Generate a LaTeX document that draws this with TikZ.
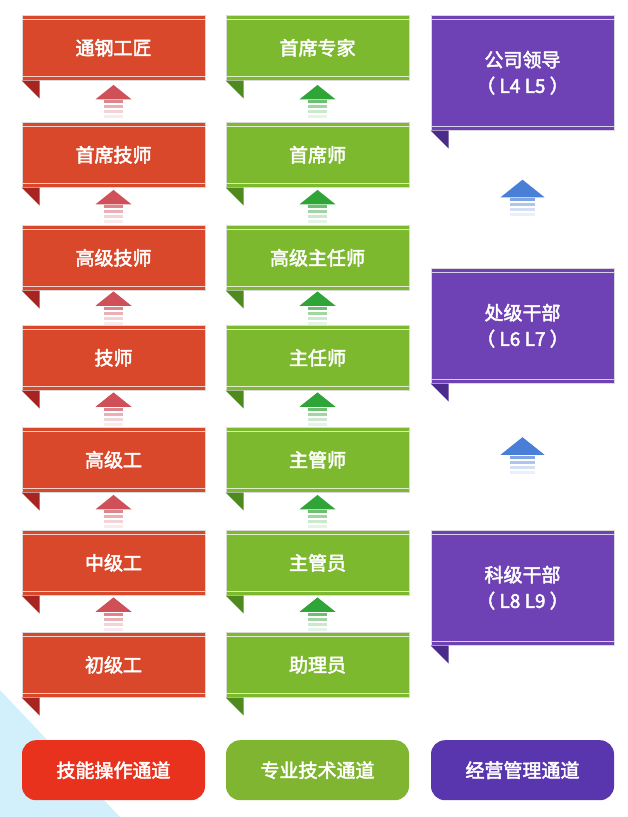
\documentclass[tikz,border=0pt]{standalone}
\usepackage{fontspec}
\newfontfamily\cjk{Noto Sans CJK SC}[FakeBold=2.5]
\usetikzlibrary{positioning,calc}
\definecolor{redA}{HTML}{D9482A}
\definecolor{redD}{HTML}{A82420}
\definecolor{redB}{HTML}{E8321E}
\definecolor{grnA}{HTML}{7DB92E}
\definecolor{grnD}{HTML}{4F8A1E}
\definecolor{grnB}{HTML}{80B531}
\definecolor{purA}{HTML}{6E42B5}
\definecolor{purD}{HTML}{4A2A8A}
\definecolor{purB}{HTML}{5A36AE}
\definecolor{arrG}{HTML}{2EA536}
\definecolor{arrP}{HTML}{4A7FD8}
\definecolor{arrR}{HTML}{D0505A}

\newcommand{\rankbox}[5]{% name, colour, fold colour, top, height
  \node[rank, fill=#2, minimum height=#5] (#1) at (#4) {};
  \fill[#3] (#1.south west) -- ++(18,0) -- ++(0,18) -- cycle;
  \draw[white!75!#2, line width=0.8pt] ([yshift=-4]#1.north west) -- ([yshift=-4]#1.north east);
  \draw[white!75!#2, line width=0.8pt] ([yshift=4]#1.south west) -- ([yshift=4]#1.south east);
}
\newcommand{\stepup}[4]{% lower, upper, colour, half width
  \path ($(#1.north)!0.5!(#2.south)$) coordinate (m);
  \fill[#3] ($(m)+(-#4,-2)$) -- ($(m)+(0,-2-#4*0.8)$) -- ($(m)+(#4,-2)$) -- cycle;
  \foreach \k/\o in {0/70,1/45,2/25,3/12}
    \fill[#3!\o!white] ($(m)+(-#4*0.55,-1+\k*5)$) rectangle ($(m)+(#4*0.55,2+\k*5)$);
}

\begin{document}
\begin{tikzpicture}[x=1pt,y=-1pt,
    rank/.style={draw=white!70!gray, line width=0.6pt, rectangle, minimum width=183, inner sep=0, anchor=north},
    lab/.style={font=\cjk\fontsize{19}{26}\selectfont, text=white},
    track/.style={minimum width=183, minimum height=60, anchor=north, rounded corners=14},
]
\useasboundingbox (0,0) rectangle (628,817);
\fill[cyan!30!white, opacity=0.6] (0,690) -- (120,817) -- (0,817) -- cycle;

% skill track
\foreach \n/\y in {1/632,2/530,3/427,4/325,5/225,6/122,7/15}
  {\rankbox{r\n}{redA}{redD}{113.5,\y}{65}}
% professional track
\foreach \n/\y in {1/632,2/530,3/427,4/325,5/225,6/122,7/15}
  {\rankbox{g\n}{grnA}{grnD}{317.5,\y}{65}}
% management track
\foreach \n/\y in {1/530,2/268,3/15}
  {\rankbox{p\n}{purA}{purD}{522.5,\y}{115}}

% labels
\foreach \n/\t in {1/初级工,2/中级工,3/高级工,4/技师,5/高级技师,6/首席技师,7/通钢工匠}
  \node[lab] at (r\n) {\t};
\foreach \n/\t in {1/助理员,2/主管员,3/主管师,4/主任师,5/高级主任师,6/首席师,7/首席专家}
  \node[lab] at (g\n) {\t};
\node[lab, align=center] at (p1) {科级干部\\（ L8 L9 ）};
\node[lab, align=center] at (p2) {处级干部\\（ L6 L7 ）};
\node[lab, align=center] at (p3) {公司领导\\（ L4 L5 ）};

% arrows
\foreach \a/\b in {1/2,2/3,3/4,4/5,5/6,6/7}{
  \stepup{r\a}{r\b}{arrR}{18}
  \stepup{g\a}{g\b}{arrG}{18}
}
\stepup{p1}{p2}{arrP}{22}
\stepup{p2}{p3}{arrP}{22}

% track names
\node[track, fill=redB, lab] (tr) at (113.5,740) {技能操作通道};
\node[track, fill=grnB, lab] (tg) at (317.5,740) {专业技术通道};
\node[track, fill=purB, lab] (tp) at (522.5,740) {经营管理通道};
\end{tikzpicture}
\end{document}
